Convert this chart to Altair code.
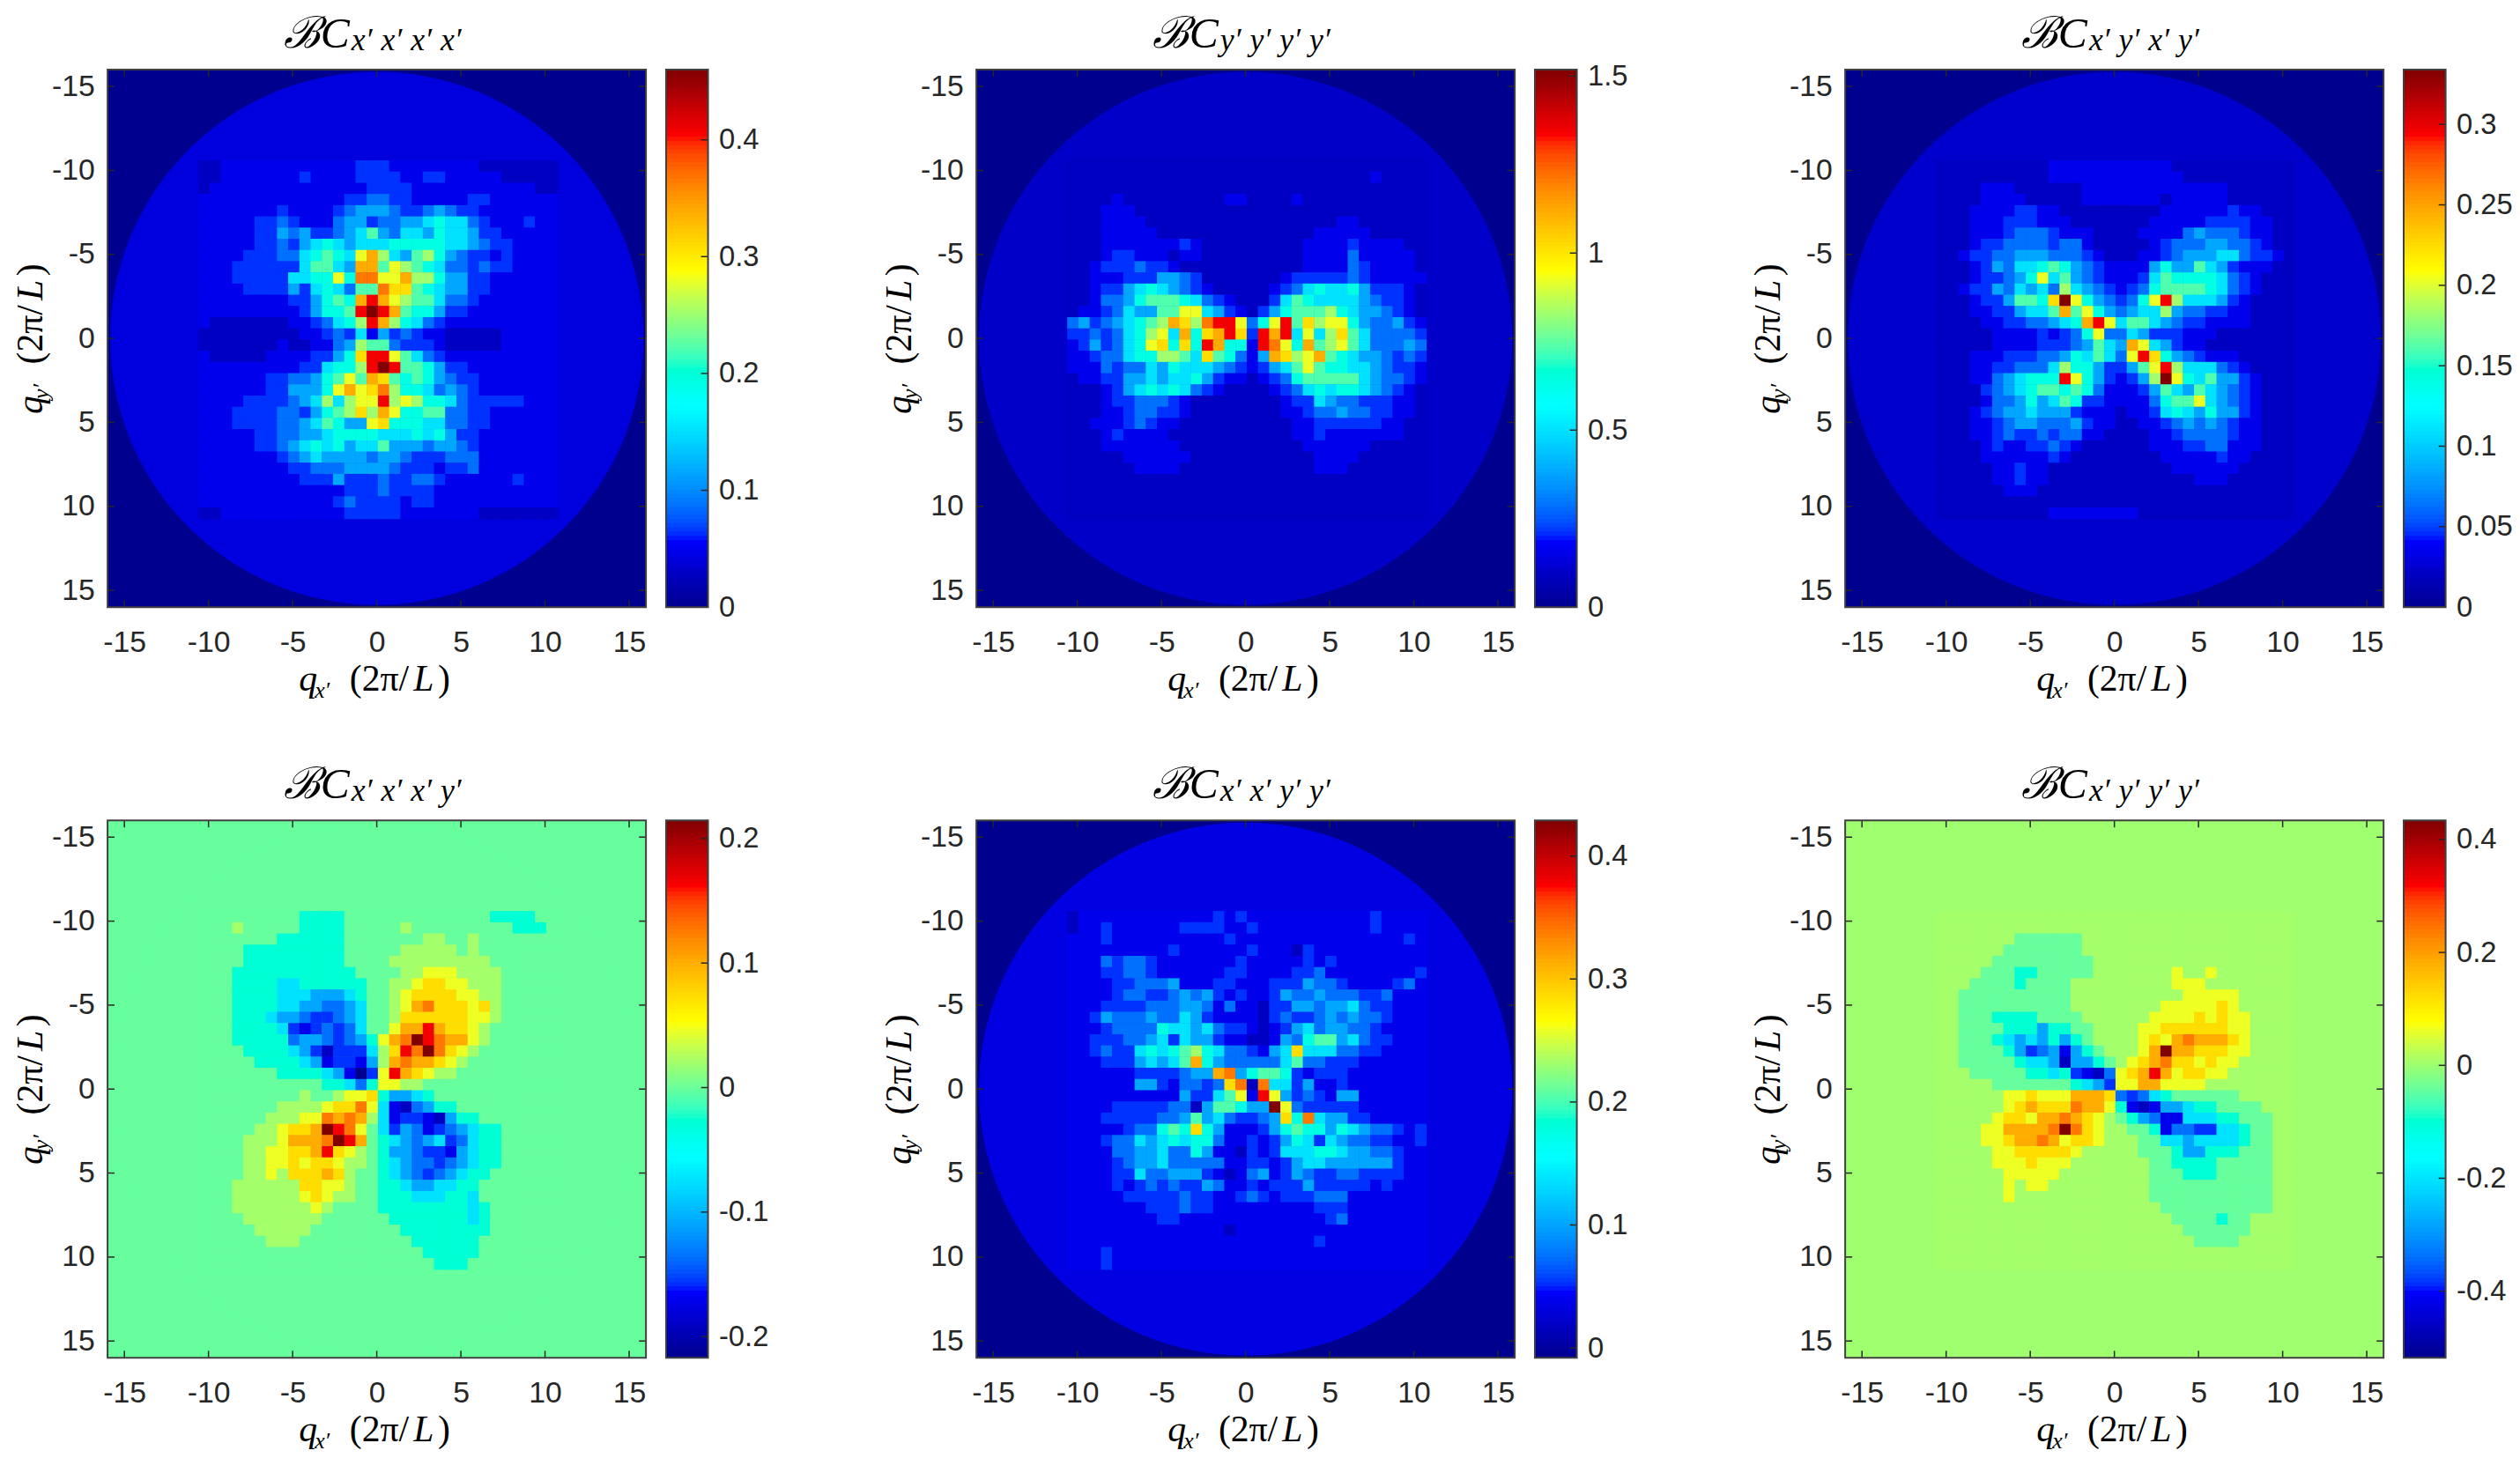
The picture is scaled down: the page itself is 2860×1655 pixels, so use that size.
import altair as alt
import pandas as pd

# on a 32x32 grid around the centre,
# each character is a colour level 0-f (dark blue ... dark red)
P1 = [
    "11222222 22222233 32222222 21111111",
    "11222222 23222233 33223322 22211111",
    "12222222 22222223 33322222 22222211",
    "22222222 22222334 43322222 33222222",
    "22222223 22223455 54334543 32222222",
    "22222334 32224553 44556766 43222322",
    "22222335 45334568 54665766 53322222",
    "22222334 35676566 67777766 54332222",
    "22223334 467876ac 96589754 33232222",
    "22233333 368865cc 8a987644 34332222",
    "22233333 6677a7dd aac99755 33222222",
    "22223333 53676488 dbb87655 33222222",
    "22222222 3357 87ce ca988644 32222222",
    "22222222 23577 8ef ec877533 22222222",
    "21111111 22346 79e c9764322 22222222",
    "11111111 12234362 53432211 11122222",
    "11111112 11224598 84333211 11122222",
    "21111122 223357be ea864322 22222222",
    "22222222 2336779e fe887533 22222222",
    "22222233 44578a8c b8787543 32222222",
    "22222233 5557acab d9776454 32222222",
    "22223333 456969aa e9a97764 33333222",
    "22233334 435789b9 ca778844 33222222",
    "22233334 4568755a b7776644 33222222",
    "22222334 45567777 66676753 32222222",
    "22222334 56767566 85554554 32222222",
    "22222223 45655554 55433344 42222222",
    "22222222 33444555 54333233 42222222",
    "22222222 23335333 43344322 22223222",
    "22222222 22222333 43333222 22222222",
    "22222222 22223433 33233222 22222222",
    "11222222 22222333 33222222 21111111",
]
P2 = [
    "11111111 11111111 11111111 11111111",
    "11111111 11111111 11111111 11121111",
    "11111111 11111111 11111111 11111111",
    "11112111 11111122 11112111 11111111",
    "11122211 11111111 11111111 11111111",
    "11122221 11111111 11111111 22111111",
    "11122222 11111111 11111122 22211111",
    "11122222 22321111 11111222 23222211",
    "11123322 21221111 11111222 24222221",
    "11233343 32111111 11111222 24322221",
    "11222333 55431111 11123333 34322222",
    "11233567 65432111 11234676 67533321",
    "11244578 88764321 11368766 66543321",
    "12234655 88aa6532 13578889 76554321",
    "45345678 9cb9deea 47ae8b9a a7544532",
    "33434679 a6c7bceb 3ece6a69 b8644443",
    "23534 67a b7b7ec77 2eda7c89 a8644454",
    "22344677 9986b874 25cb9ac8 76554343",
    "22243446 57666543 23568a87 76654332",
    "12233556 56675322 12347888 88654432",
    "11123567 67643211 11234676 77654321",
    "11123344 43211111 11123365 44333221",
    "11122344 33211111 11122344 54433221",
    "11222343 22111111 11112233 33332211",
    "11123222 21111111 11112232 22222211",
    "11122222 22111111 11111222 22211111",
    "11111222 22211111 11111122 22111111",
    "11111122 22111111 11111122 21111111",
    "11111111 11111111 11111111 11111111",
    "11111111 11111111 11111111 11111111",
    "11111111 11111111 11111111 11111111",
    "11111111 11111111 11111111 11111111",
]
P3 = [
    "11111111 11222222 22222111 11111111",
    "11111111 11222222 22222211 11111111",
    "11112221 11111222 22222222 22111111",
    "11112222 11111222 22221222 22111111",
    "11122223 32211111 11112222 22322111",
    "11122233 32221111 11122222 33332211",
    "11122234 44322211 11222245 44432211",
    "11123344 44344211 11123444 55443211",
    "11233445 55444321 11223455 56643321",
    "11123546 67875432 22257558 65322211",
    "11123345 7a685432 22368777 76432111",
    "11233546 56496543 23478888 76432111",
    "11123358 87bfa754 347ae966 65321111",
    "11122335 668c8a75 45669544 33221111",
    "11112233 44567cea 68865433 22221111",
    "11111222 232347a4 46533322 21111111",
    "11111222 23334586 5ca65322 11111111",
    "11122233 34457686 4aeb7543 22211111",
    "11122334 44697753 358ae966 64321111",
    "11122456 777ea753 2359fa76 85532111",
    "11113456 78878742 22358658 65432111",
    "11112445 75687332 2224788a 65432111",
    "11123455 65553222 12236765 75532111",
    "11122345 54445322 11223454 54322111",
    "11122343 34344221 11122344 44322111",
    "11112322 33432111 11122233 44222111",
    "11112222 22321111 11112222 23221111",
    "11111223 22111111 11111222 22211111",
    "11111223 22111111 11111112 22111111",
    "11111122 21111111 11111111 11111111",
    "11111111 11111111 11111111 11111111",
    "11111111 11222222 22111111 11111111",
]
P4 = [
    "88888888 87777888 88888888 88777788",
    "88898888 87777888 88988888 88887778",
    "88888887 77777888 88889988 98888888",
    "88887777 77777888 88999998 98888888",
    "88887777 77777888 89999999 99888888",
    "88877777 77777788 8899aaa9 99988888",
    "88877776 67777778 899abbaa 99988888",
    "88877776 66555678 89abbbba a9988888",
    "88877776 65544568 89acdbbb ab988888",
    "88877765 54334568 89bbbbbb aa988888",
    "88877776 32343468 8accecbb a9888888",
    "88877777 45543457 acdfedcc a9888888",
    "88887777 65313336 9bedfdba 98888888",
    "88888777 76523325 9cdccba9 88888888",
    "88888887 77765203 aecba998 88888888",
    "88888888 88877647 aa998888 88888888",
    "88888888 89889aab 75567888 88888888",
    "88888889 999abbda 62145778 88888888",
    "88888899 9aadcdc9 62332157 78888888",
    "888889 9a bbcfeda8 63542345 67788888",
    "8888999a cccdfec8 76545634 67788888",
    "888899aa bbceba98 75543325 67788888",
    "888899aa babba998 76544345 67788888",
    "888899a9 bbbcb988 76543456 77888888",
    "88899999 9bbaa988 77655667 78888888",
    "88899999 9aba9988 77766677 68888888",
    "88899999 99a98888 77777777 67888888",
    "88889999 99988888 87777777 67888888",
    "88888999 99888888 88777777 77888888",
    "88888899 98888888 88877777 78888888",
    "88888888 88888888 88887777 78888888",
    "88888888 88888888 88888777 88888888",
]
P5 = [
    "12222222 22222323 22222222 22232222",
    "12232222 22333322 32222222 22232222",
    "22232222 22222232 22222222 22222232",
    "22222222 23222222 32221322 22222222",
    "22243443 22222223 22222323 22222222",
    "22233443 22222233 22223342 22222223",
    "22223344 45222332 22333544 32222342",
    "22223443 34545323 22354454 44334222",
    "22233334 44554242 21335545 56433222",
    "22354445 44653222 21343345 45443222",
    "22234444 76656433 21235645 54432222",
    "22333445 63655322 11254788 56433222",
    "22343367 67897644 3256b666 44332222",
    "22233356 568c7544 44468443 33222222",
    "22222233 33455cd5 78873233 32222222",
    "22222255 324434bd 1d663522 32222222",
    "22222222 2253368a 2ea53432 55222222",
    "22223333 34415887 55fa4333 33222222",
    "22233333 44585643 345b7d65 53322222",
    "22222344 787b7522 23578775 76544323",
    "22234465 67677422 32357636 54433223",
    "22224455 64475221 32366677 65544322",
    "22223455 64444422 33235665 55555322",
    "22223364 45553212 45235433 44333322",
    "22223234 34335422 32333533 33323222",
    "22222333 33433223 43233344 42222222",
    "22222223 33433222 22222233 32222222",
    "22222222 33222222 22222223 42222222",
    "22222222 22222212 22222222 22222222",
    "22222222 22222222 22222232 22222222",
    "22232222 22222222 22222222 22222222",
    "22232222 22222222 22222222 22222222",
]
P6 = [
    "99999999 99999999 99999999 99999999",
    "99999999 99999999 99999999 99999999",
    "99999998 88888999 99999999 99999999",
    "99999988 88888999 99999999 99999999",
    "99999888 88888899 99999999 99999999",
    "99998887 78888899 99999a99 a9999999",
    "99988887 88889999 99999aaa 99999999",
    "99888888 88889999 999999aa aaa99999",
    "99888888 88889999 9999aaaa aba99999",
    "99888777 78888999 999aaaab abaa9999",
    "99888877 75778899 99aabbbb bbaa9999",
    "99888765 65757899 99abacdc ccba9999",
    "99888875 34525789 99acfccb bbaa9999",
    "99888887 66515578 9abcdbba baa99999",
    "99988888 77673214 abcecabb aa999999",
    "99999888 88887653 aaccaaaa 99999999",
    "999999aa baaacccb 43467888 88899999",
    "999999ab cbbbdcca 72125567 78888999",
    "99999abb accdcba9 87542266 67788899",
    "9999aacc ccdfdba9 98872443 36678899",
    "9999aabc cdcabba9 99886656 66678899",
    "99999aab bbbba999 99888755 77788899",
    "99999aaa baaa9999 99988777 78888899",
    "999999aa aaa99999 99988877 78888899",
    "999999a9 aa999999 99988888 88888899",
    "999999a9 99999999 99988888 88888899",
    "99999999 99999999 99998888 88888899",
    "99999999 99999999 99999888 87889999",
    "99999999 99999999 99999988 88889999",
    "99999999 99999999 99999998 88899999",
    "99999999 99999999 99999999 99999999",
    "99999999 99999999 99999999 99999999",
]

# where each level sits on the jet colour bar (0-1)
LEVEL_POS = [0, .06, .105, .14, .19, .25, .33, .42, .483, .547, .61, .672, .735, .797, .886, 1]
# the two signed panels: softer steps around the green background
LEVEL_POS_SIGNED = [0, .06, .105, .14, .19, .25, .33, .44, .5, .55, .61, .672, .735, .797, .886, 1]
LEVELS = [LEVEL_POS, LEVEL_POS, LEVEL_POS, LEVEL_POS_SIGNED, LEVEL_POS, LEVEL_POS_SIGNED]
JET_POS = [0, .125, .375, .625, .875, 1]
JET_COLORS = ["#00008f", "#0000ff", "#00ffff", "#ffff00", "#ff0000", "#800000"]

TICKS = [-15, -10, -5, 0, 5, 10, 15]
SUBS = [
    ["x′", "x′", "x′", "x′"], ["y′", "y′", "y′", "y′"], ["x′", "y′", "x′", "y′"],
    ["x′", "x′", "x′", "y′"], ["x′", "x′", "y′", "y′"], ["x′", "y′", "y′", "y′"],
]
GRIDS = [P1, P2, P3, P4, P5, P6]
VMIN = [0, 0, 0, -0.217, -0.008, -0.518]
VMAX = [0.46, 1.518, 0.334, 0.2146, 0.429, 0.434]
BAR_TICKS = [
    [0, 0.1, 0.2, 0.3, 0.4],
    [0, 0.5, 1, 1.5],
    [0, 0.05, 0.1, 0.15, 0.2, 0.25, 0.3],
    [-0.2, -0.1, 0, 0.1, 0.2],
    [0, 0.1, 0.2, 0.3, 0.4],
    [-0.4, -0.2, 0, 0.2, 0.4],
]
# colour bar position of the flat area outside the disk and of the disk itself
OUTSIDE_POS = [0, 0, 0, .5, 0, .547]
DISK_POS = [.09, .065, .07, .5, .095, .547]

W = 616
H = 615
INK = "#262626"
FRAME = "#404040"
SERIF = "Liberation Serif"
SANS = "Liberation Sans"
STEP = 2 / 3
Q0 = -10.6


def label(txt, x, y, size, style="normal", angle=0, align="left"):
    return alt.Chart(pd.DataFrame({"t": [txt]})).mark_text(
        font=SERIF, fontSize=size, fontStyle=style, color="black",
        align=align, baseline="alphabetic", angle=angle
    ).encode(x=alt.value(x), y=alt.value(y), text="t:N")


def panel(i):
    lo, hi = VMIN[i], VMAX[i]
    scale = alt.Scale(domain=[lo + p * (hi - lo) for p in JET_POS], range=JET_COLORS)
    col = alt.Color("v:Q", scale=scale, legend=None)
    xs = alt.Scale(domain=[-16, 16], nice=False, zero=False)
    ys = alt.Scale(domain=[-16, 16], nice=False, zero=False, reverse=True)

    rows = []
    for r, row in enumerate(GRIDS[i]):
        for c, ch in enumerate(row.replace(" ", "")):
            rows.append({
                "x0": Q0 + c * STEP, "x1": Q0 + (c + 1.04) * STEP,
                "y0": Q0 + r * STEP, "y1": Q0 + (r + 1.04) * STEP,
                "v": lo + LEVELS[i][int(ch, 16)] * (hi - lo),
            })
    cells = pd.DataFrame(rows)

    axis_x = alt.Axis(values=TICKS, ticks=False, domain=False, grid=False, title=None,
                      labelFont=SANS, labelFontSize=34, labelColor=INK, labelPadding=24,
                      labelExpr="toString(datum.value)")
    axis_y = alt.Axis(values=TICKS, ticks=False, domain=False, grid=False, title=None,
                      labelFont=SANS, labelFontSize=34, labelColor=INK, labelPadding=15,
                      labelExpr="toString(datum.value)")

    box = pd.DataFrame({"x0": [-16], "x1": [16], "y0": [-16], "y1": [16],
                        "v": [lo + OUTSIDE_POS[i] * (hi - lo)]})
    back = alt.Chart(box).mark_rect().encode(
        x=alt.X("x0:Q", scale=xs, axis=axis_x), x2="x1:Q",
        y=alt.Y("y0:Q", scale=ys, axis=axis_y), y2="y1:Q", color=col)
    disk = alt.Chart(pd.DataFrame({"x": [0], "y": [0], "v": [lo + DISK_POS[i] * (hi - lo)]})).mark_point(
        filled=True, opacity=1, size=372100, shape="circle"
    ).encode(x=alt.X("x:Q", scale=xs), y=alt.Y("y:Q", scale=ys), color=col)
    heat = alt.Chart(cells).mark_rect().encode(
        x=alt.X("x0:Q", scale=xs), x2="x1:Q", y=alt.Y("y0:Q", scale=ys), y2="y1:Q", color=col)
    frame = alt.Chart(box).mark_rect(filled=False, stroke=FRAME, strokeWidth=2).encode(
        x=alt.X("x0:Q", scale=xs), x2="x1:Q", y=alt.Y("y0:Q", scale=ys), y2="y1:Q")

    tk = pd.DataFrame({"t": TICKS})
    tick_layers = [
        alt.Chart(tk).mark_rule(color=INK, strokeWidth=1.5).encode(
            x=alt.X("t:Q", scale=xs), y=alt.value(0), y2=alt.value(8)),
        alt.Chart(tk).mark_rule(color=INK, strokeWidth=1.5).encode(
            x=alt.X("t:Q", scale=xs), y=alt.value(H - 8), y2=alt.value(H)),
        alt.Chart(tk).mark_rule(color=INK, strokeWidth=1.5).encode(
            y=alt.Y("t:Q", scale=ys), x=alt.value(0), x2=alt.value(8)),
        alt.Chart(tk).mark_rule(color=INK, strokeWidth=1.5).encode(
            y=alt.Y("t:Q", scale=ys), x=alt.value(W - 8), x2=alt.value(W)),
    ]

    texts = [label("ℬC", 277, -25, 50, "italic", align="right")]
    for n, s in enumerate(SUBS[i]):
        texts.append(label(s, 279 + n * 34, -22, 36, "italic"))
    # x axis name
    texts += [
        label("q", 219, 711, 42, "italic"),
        label("x′", 237, 719, 26, "italic"),
        label("(2π/", 277, 711, 42),
        label("L", 350, 711, 42, "italic"),
        label(")", 378, 711, 42),
    ]
    # y axis name, rotated
    texts += [
        label("q", -75, 394, 42, "italic", angle=270),
        label("y′", -68, 377, 26, "italic", angle=270),
        label("(2π/", -75, 337, 42, angle=270),
        label("L", -75, 264, 42, "italic", angle=270),
        label(")", -75, 236, 42, angle=270),
    ]
    return alt.layer(back, disk, heat, *tick_layers, frame, *texts).properties(width=W, height=H)


def colorbar(i):
    lo, hi = VMIN[i], VMAX[i]
    scale = alt.Scale(domain=[lo + p * (hi - lo) for p in JET_POS], range=JET_COLORS)
    ys = alt.Scale(domain=[lo, hi], nice=False, zero=False)
    n = 128
    seg = pd.DataFrame({
        "a": [lo + k * (hi - lo) / n for k in range(n)],
        "b": [lo + min(k + 1.5, n) * (hi - lo) / n for k in range(n)],
        "v": [lo + (k + .5) * (hi - lo) / n for k in range(n)],
    })
    axis = alt.Axis(orient="right", values=BAR_TICKS[i], ticks=False, domain=False, grid=False, title=None,
                    labelFont=SANS, labelFontSize=33, labelColor=INK, labelPadding=12,
                    labelExpr="toString(datum.value)")
    bar = alt.Chart(seg).mark_rect().encode(
        x=alt.value(0), x2=alt.value(48),
        y=alt.Y("a:Q", scale=ys, axis=axis), y2="b:Q",
        color=alt.Color("v:Q", scale=scale, legend=None))
    marks = alt.Chart(pd.DataFrame({"t": BAR_TICKS[i]})).mark_rule(color=INK, strokeWidth=1.5).encode(
        y=alt.Y("t:Q", scale=ys), x=alt.value(40), x2=alt.value(48))
    edge = alt.Chart(pd.DataFrame({"a": [lo], "b": [hi]})).mark_rect(filled=False, stroke=FRAME, strokeWidth=2).encode(
        x=alt.value(0), x2=alt.value(48), y=alt.Y("a:Q", scale=ys), y2="b:Q")
    return alt.layer(bar, marks, edge).properties(width=48, height=H)


def spacer():
    return alt.Chart(pd.DataFrame({"t": [0]})).mark_point(opacity=0).encode(
        x=alt.value(0), y=alt.value(0)).properties(width=261, height=H)


cells_list = []
for k in range(6):
    cells_list += [panel(k), colorbar(k)]
    if k % 3 != 2:
        cells_list.append(spacer())

chart = alt.concat(*cells_list, columns=8, bounds="flush",
                   spacing=alt.RowColnumber(column=23, row=244)).properties(
    padding={"left": 6, "top": 0, "right": 0, "bottom": 0}).resolve_scale(
    color="independent", x="independent", y="independent").configure_view(stroke=None)

chart.save("out.html", embed_options={"renderer": "svg", "actions": False})
